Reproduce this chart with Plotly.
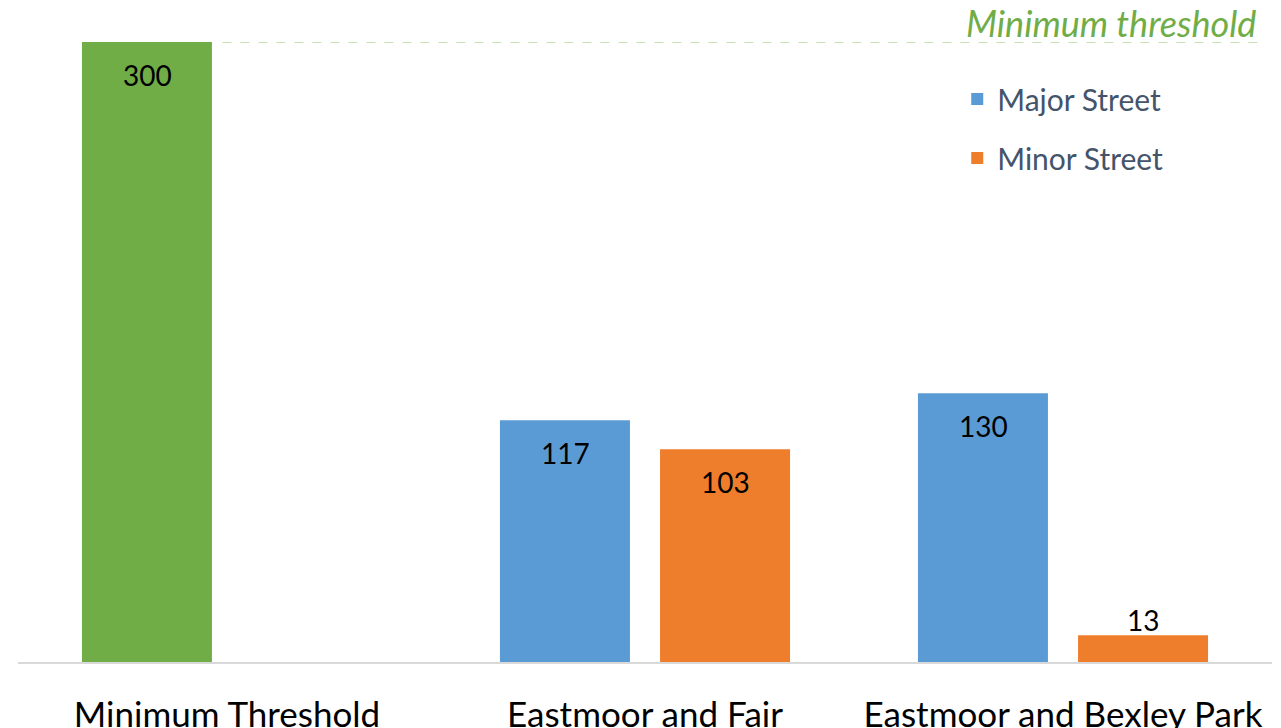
import plotly.graph_objects as go

categories = ["Minimum Threshold", "Eastmoor and Fair", "Eastmoor and Bexley Park"]
threshold_value = [300]
major_values = [117, 130]
minor_values = [103, 13]
threshold_label = "Minimum threshold"

GREEN = "#70AD47"
BLUE = "#5B9BD5"
ORANGE = "#EF7E2C"
FONT = "Lato, 'Open Sans', sans-serif"

BAR_W = 0.311        # bar width in category units
OFF_L = -0.347       # left slot offset
OFF_R = 0.036        # right slot offset

fig = go.Figure()
fig.add_trace(go.Bar(x=categories[:1], y=threshold_value, width=BAR_W, offset=OFF_L,
                     marker=dict(color=GREEN, line=dict(width=0)), showlegend=False,
                     legendgroup="g0"))
fig.add_trace(go.Bar(x=categories[1:], y=major_values, width=BAR_W, offset=OFF_L, name="Major Street",
                     marker=dict(color=BLUE, line=dict(width=0)), legendgroup="g1"))
fig.add_trace(go.Bar(x=categories[1:], y=minor_values, width=BAR_W, offset=OFF_R, name="Minor Street",
                     marker=dict(color=ORANGE, line=dict(width=0)), legendgroup="g2"))

annotations = []
def add_labels(xs, ys, shift):
    for xc, v in zip(xs, ys):
        inside = v > 30
        annotations.append(dict(x=xc, y=v, xref="x", yref="y", text=str(v), showarrow=False,
                                xshift=shift, yshift=-33 if inside else 15, yanchor="middle",
                                font=dict(family=FONT, size=28, color="#000000")))
add_labels(categories[:1], threshold_value, -80)
add_labels(categories[1:], major_values, -80)
add_labels(categories[1:], minor_values, 80)

annotations.append(dict(x=0.989, y=threshold_value[0], xref="paper", yref="y", text=threshold_label,
                        showarrow=False, xanchor="right", yanchor="bottom", yshift=-5,
                        font=dict(family=FONT, size=36, color=GREEN, style="italic")))

fig.add_shape(type="line", xref="paper", yref="y", x0=0.163, x1=0.989,
              y0=threshold_value[0], y1=threshold_value[0],
              line=dict(color="#8CC56A", width=1, dash="dash"))

fig.update_layout(
    width=1273, height=720,
    margin=dict(l=10, r=9, t=34, b=66, autoexpand=False),
    paper_bgcolor="white", plot_bgcolor="white",
    barmode="overlay",
    font=dict(family=FONT),
    annotations=annotations,
    legend=dict(x=0.749, y=0.950, xanchor="left", yanchor="top", traceorder="grouped",
                tracegroupgap=17, font=dict(family=FONT, size=30, color="#44546A"),
                bgcolor="rgba(0,0,0,0)"),
    xaxis=dict(showline=True, linecolor="#D9D9D9", linewidth=1.5, ticks="outside",
               ticklen=21, tickcolor="rgba(0,0,0,0)", showgrid=False, automargin=False,
               range=[-0.5, 2.5],
               tickfont=dict(family=FONT, size=35, color="#000000")),
    yaxis=dict(range=[0, 300], visible=False, showgrid=False, zeroline=False),
)

fig.write_html("out.html")
